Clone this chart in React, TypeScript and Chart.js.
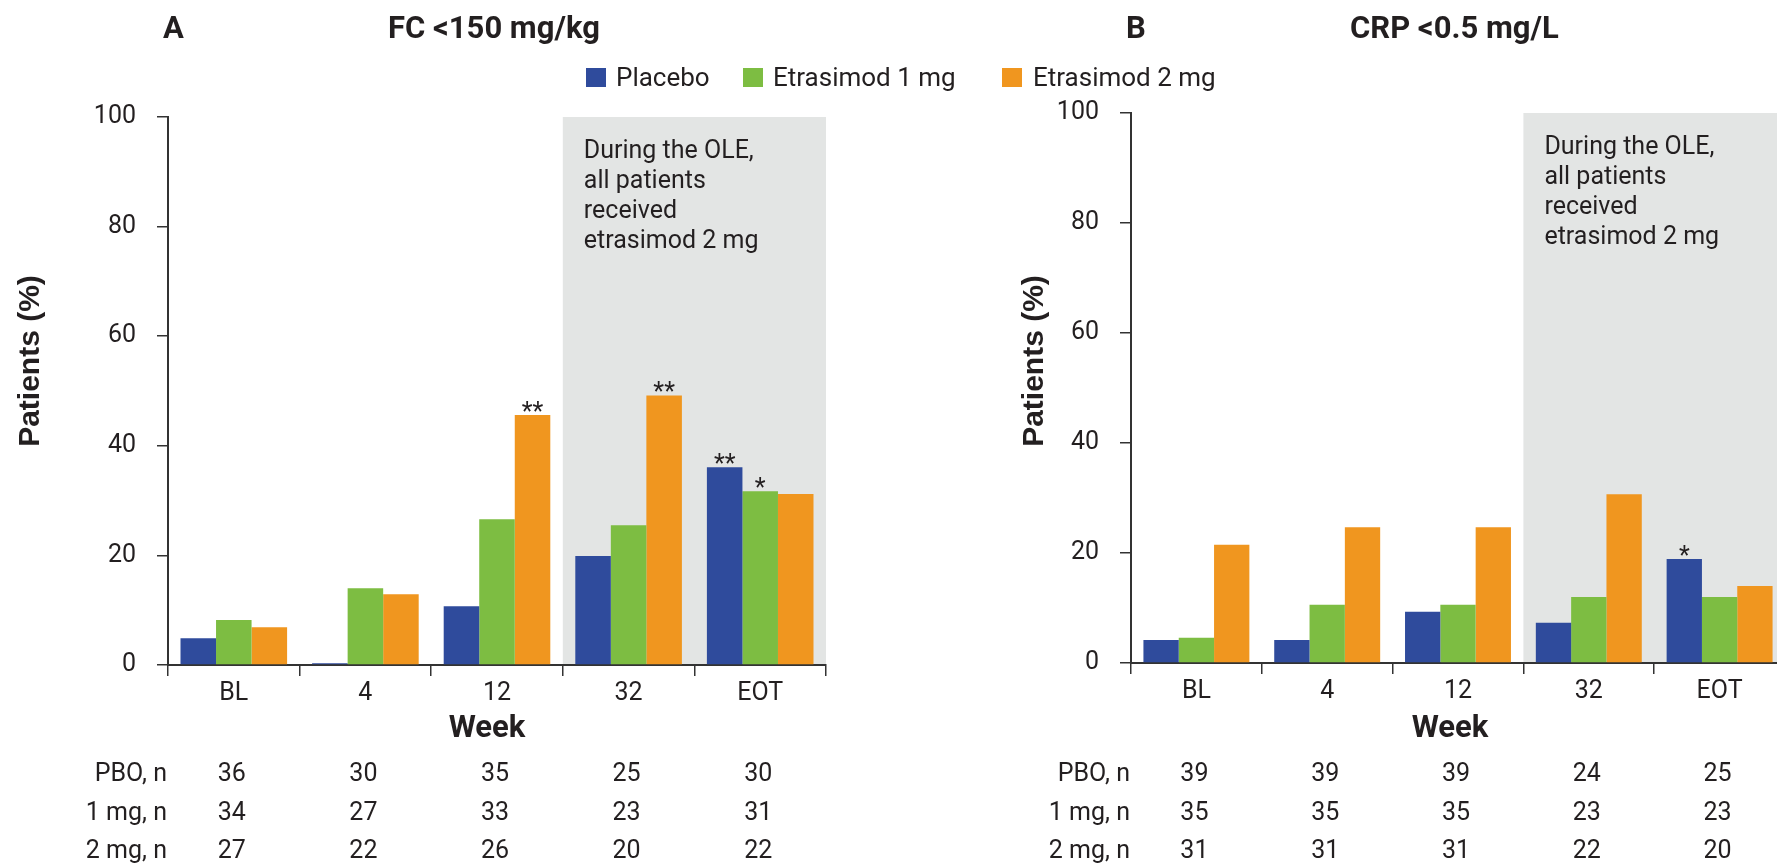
import React, { useEffect, useRef } from 'react';
import { Chart, registerables } from 'chart.js';

Chart.register(...registerables);

// ---------- data ----------
const weeks = ['BL', '4', '12', '32', 'EOT'];
const seriesNames = ['Placebo', 'Etrasimod 1 mg', 'Etrasimod 2 mg'];
const seriesColors = ['#2F4B9C', '#7DBD42', '#F0961F'];

const fcPlacebo = [4.9, 0.3, 10.7, 19.9, 36.1];
const fc1mg = [8.2, 14.0, 26.6, 25.5, 31.7];
const fc2mg = [6.9, 12.9, 45.6, 49.2, 31.2];
const fcStarsPlacebo = ['', '', '', '', '**'];
const fcStars1mg = ['', '', '', '', '*'];
const fcStars2mg = ['', '', '**', '**', ''];
const fcNPbo = [36, 30, 35, 25, 30];
const fcN1mg = [34, 27, 33, 23, 31];
const fcN2mg = [27, 22, 26, 20, 22];

const crpPlacebo = [4.2, 4.2, 9.3, 7.3, 18.9];
const crp1mg = [4.6, 10.6, 10.6, 12.0, 12.0];
const crp2mg = [21.5, 24.7, 24.7, 30.7, 14.0];
const crpStarsPlacebo = ['', '', '', '', '*'];
const crpStars1mg = ['', '', '', '', ''];
const crpStars2mg = ['', '', '', '', ''];
const crpNPbo = [39, 39, 39, 24, 25];
const crpN1mg = [35, 35, 35, 23, 23];
const crpN2mg = [31, 31, 31, 22, 20];

const nRowLabels = ['PBO, n', '1 mg, n', '2 mg, n'];
const yTicks = [0, 20, 40, 60, 80, 100];
const oleNote = ['During the OLE,', 'all patients', 'received', 'etrasimod 2 mg'];
const oleStartIndex = 3;
const yAxisTitle = 'Patients (%)';
const xAxisTitle = 'Week';

const TEXT = '#231F20';
const AXIS = '#333333';
const SHADE = '#E3E5E4';
const FONT = 'Roboto';

type PanelCfg = {
  letter: string;
  title: string;
  values: number[][];
  stars: string[][];
  nRows: number[][];
  canvasLeft: number;
  canvasWidth: number;
  area: { left: number; top: number; right: number; bottom: number };
  letterX: number;
  titleX: number;
  yTitleX: number;
  yTitleY: number;
  weekX: number;
};

const H = 863;

const panels: PanelCfg[] = [
  {
    letter: 'A',
    title: 'FC <150 mg/kg',
    values: [fcPlacebo, fc1mg, fc2mg],
    stars: [fcStarsPlacebo, fcStars1mg, fcStars2mg],
    nRows: [fcNPbo, fcN1mg, fcN2mg],
    canvasLeft: 0,
    canvasWidth: 880,
    area: { left: 168, top: 117, right: 826, bottom: 665 },
    letterX: 163,
    titleX: 388,
    yTitleX: 31,
    yTitleY: 361,
    weekX: 487,
  },
  {
    letter: 'B',
    title: 'CRP <0.5 mg/L',
    values: [crpPlacebo, crp1mg, crp2mg],
    stars: [crpStarsPlacebo, crpStars1mg, crpStars2mg],
    nRows: [crpNPbo, crpN1mg, crpN2mg],
    canvasLeft: 880,
    canvasWidth: 920,
    area: { left: 1131, top: 113, right: 1785, bottom: 663 },
    letterX: 1126,
    titleX: 1350,
    yTitleX: 1035,
    yTitleY: 361,
    weekX: 1450,
  },
];

function makePlugin(cfg: PanelCfg) {
  const ox = cfg.canvasLeft;
  return {
    id: 'panelDecor' + cfg.letter,
    beforeDraw(chart: any) {
      const { ctx, chartArea } = chart;
      const xs = chart.scales.x;
      const ys = chart.scales.y;
      const catW = (xs.right - xs.left) / weeks.length;
      const left = xs.getPixelForValue(oleStartIndex) - catW / 2;
      const top = ys.getPixelForValue(100);
      ctx.save();
      ctx.fillStyle = SHADE;
      ctx.fillRect(left, top, chartArea.right - left, chartArea.bottom - top);
      ctx.fillStyle = TEXT;
      ctx.font = `25px ${FONT}`;
      ctx.textAlign = 'left';
      ctx.textBaseline = 'alphabetic';
      oleNote.forEach((line, i) => {
        ctx.fillText(line, left + 21, top + 41 + i * 30);
      });
      ctx.restore();
    },
    afterDatasetsDraw(chart: any) {
      const { ctx } = chart;
      ctx.save();
      ctx.fillStyle = TEXT;
      ctx.font = `25px ${FONT}`;
      ctx.textAlign = 'center';
      ctx.textBaseline = 'alphabetic';
      cfg.stars.forEach((row, di) => {
        const meta = chart.getDatasetMeta(di);
        row.forEach((s, j) => {
          if (!s) return;
          const el = meta.data[j];
          ctx.fillText(s, el.x, el.y + 5);
        });
      });
      ctx.restore();
    },
    afterDraw(chart: any) {
      const { ctx, chartArea } = chart;
      const xs = chart.scales.x;
      ctx.save();
      ctx.fillStyle = TEXT;
      // panel letter and title
      ctx.font = `bold 31px ${FONT}`;
      ctx.textAlign = 'left';
      ctx.textBaseline = 'alphabetic';
      ctx.fillText(cfg.letter, cfg.letterX - ox, 38);
      ctx.fillText(cfg.title, cfg.titleX - ox, 38);
      // x axis title
      ctx.textAlign = 'center';
      ctx.fillText(xAxisTitle, cfg.weekX - ox, 737);
      // y axis title
      ctx.save();
      ctx.translate(cfg.yTitleX - ox, cfg.yTitleY);
      ctx.rotate(-Math.PI / 2);
      ctx.font = `bold 30px "Liberation Sans", Arial, sans-serif`;
      ctx.textAlign = 'center';
      ctx.textBaseline = 'middle';
      ctx.fillText(yAxisTitle, 0, 0);
      ctx.restore();
      // n table
      ctx.font = `25px ${FONT}`;
      const baselines = [781, 819.5, 858];
      cfg.nRows.forEach((row, ri) => {
        ctx.textAlign = 'right';
        ctx.fillText(nRowLabels[ri], chartArea.left - 1, baselines[ri]);
        ctx.textAlign = 'center';
        row.forEach((n, j) => {
          ctx.fillText(String(n), xs.getPixelForValue(j) - 2, baselines[ri]);
        });
      });
      ctx.restore();
    },
  };
}

function Panel({ cfg }: { cfg: PanelCfg }) {
  const ref = useRef<HTMLCanvasElement | null>(null);
  useEffect(() => {
    if (!ref.current) return;
    const ox = cfg.canvasLeft;
    const a = cfg.area;
    const chart = new Chart(ref.current, {
      type: 'bar',
      data: {
        labels: weeks,
        datasets: cfg.values.map((vals, i) => ({
          label: seriesNames[i],
          data: vals,
          backgroundColor: seriesColors[i],
          borderWidth: 0,
          barPercentage: 1,
          categoryPercentage: 0.81,
        })),
      },
      options: {
        animation: false,
        responsive: false,
        devicePixelRatio: 1,
        events: [],
        layout: {
          padding: { left: 0, top: a.top, right: cfg.canvasWidth - (a.right - ox), bottom: 0 },
        },
        plugins: {
          legend: { display: false },
          tooltip: { enabled: false },
          title: { display: false },
        },
        scales: {
          x: {
            type: 'category',
            offset: true,
            border: { display: true, color: AXIS, width: 2 },
            grid: {
              offset: true,
              drawOnChartArea: false,
              drawTicks: true,
              tickLength: 11,
              color: AXIS,
              lineWidth: 1.5,
            },
            ticks: {
              color: TEXT,
              font: { family: FONT, size: 25 },
              padding: 3,
              maxRotation: 0,
              autoSkip: false,
            },
            afterFit: (s: any) => {
              s.height = H - a.bottom;
            },
          },
          y: {
            min: 0,
            max: 100,
            border: { display: true, color: AXIS, width: 2 },
            grid: {
              drawOnChartArea: false,
              drawTicks: true,
              tickLength: 11,
              color: AXIS,
              lineWidth: 1.5,
            },
            ticks: {
              color: TEXT,
              font: { family: FONT, size: 25 },
              padding: 21,
            },
            afterBuildTicks: (s: any) => {
              s.ticks = yTicks.map((v) => ({ value: v }));
            },
            afterFit: (s: any) => {
              s.width = a.left - ox;
            },
          },
        },
      },
      plugins: [makePlugin(cfg)],
    } as any);
    return () => chart.destroy();
  }, [cfg]);
  return (
    <canvas
      ref={ref}
      width={cfg.canvasWidth}
      height={H}
      style={{ position: 'absolute', left: cfg.canvasLeft, top: 0, width: cfg.canvasWidth, height: H }}
    />
  );
}

const legendSquareX = [586, 743, 1002];
const legendTextX = [616, 773, 1033];

export default function App() {
  return (
    <div
      style={{
        position: 'absolute',
        left: 0,
        top: 0,
        width: 1777,
        height: H,
        overflow: 'hidden',
        background: '#ffffff',
      }}
    >
      {panels.map((p) => (
        <Panel key={p.letter} cfg={p} />
      ))}
      {seriesNames.map((name, i) => (
        <React.Fragment key={name}>
          <div
            style={{
              position: 'absolute',
              left: legendSquareX[i],
              top: 68,
              width: 20,
              height: 19,
              background: seriesColors[i],
            }}
          />
          <div
            style={{
              position: 'absolute',
              left: legendTextX[i],
              top: 64,
              fontFamily: FONT,
              fontSize: 26,
              lineHeight: '26px',
              color: TEXT,
              whiteSpace: 'nowrap',
            }}
          >
            {name}
          </div>
        </React.Fragment>
      ))}
    </div>
  );
}
